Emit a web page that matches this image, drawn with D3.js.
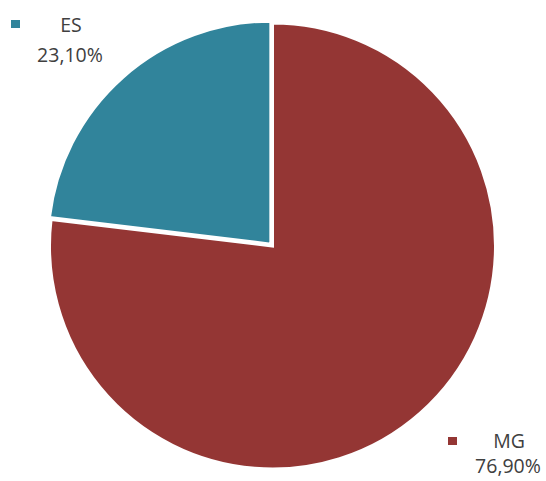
<!DOCTYPE html>
<html><head><meta charset="utf-8">
<script src="https://cdn.jsdelivr.net/npm/d3@7"></script>
<style>body{margin:0;background:#fff}svg{display:block}</style>
</head><body>
<svg id="c" width="546" height="481"></svg>
<script>
const categories = ["ES", "MG"];
const values = [23.1, 76.9];
const labels = ["23,10%", "76,90%"];
const colors = ["#31849B", "#943634"];

const svg = d3.select("#c");
const cx = 272.5, cy = 246, r = 223;
const g = svg.append("g").attr("transform", `translate(${cx},${cy})`);
const data = categories.map((c, i) => ({cat: c, v: values[i], lab: labels[i], col: colors[i]}));
const pie = d3.pie().value(d => d.v).sort(null).startAngle(-2 * Math.PI * values[0] / 100).endAngle(2 * Math.PI - 2 * Math.PI * values[0] / 100);
const arc = d3.arc().innerRadius(0).outerRadius(r);
const arcs = pie(data);
g.selectAll("path").data(arcs).enter().append("path")
  .attr("d", arc)
  .attr("fill", d => d.data.col)
  .attr("stroke", "#fff").attr("stroke-width", 3).attr("stroke-linejoin", "miter")
  .attr("transform", (d, i) => {
    if (i !== 0) return null;
    const a = (d.startAngle + d.endAngle) / 2;
    const off = 2.5;
    return `translate(${off * Math.sin(a)},${-off * Math.cos(a)})`;
  });

const font = "'Open Sans', 'Liberation Sans', sans-serif";
const legendPos = [
  {mx: 11, my: 20, tx: 71, ty: 32, vx: 70, vy: 62},
  {mx: 448, my: 437, tx: 509, ty: 448, vx: 508, vy: 473}
];
data.forEach((d, i) => {
  const p = legendPos[i];
  svg.append("rect").attr("x", p.mx).attr("y", p.my).attr("width", 9).attr("height", 8).attr("fill", d.col);
  svg.append("text").attr("x", p.tx).attr("y", p.ty).attr("text-anchor", "middle")
    .attr("font-family", font).attr("font-size", 19.5).attr("fill", "#404040").text(d.cat);
  svg.append("text").attr("x", p.vx).attr("y", p.vy).attr("text-anchor", "middle")
    .attr("font-family", font).attr("font-size", 19.5).attr("fill", "#404040").text(d.lab);
});
</script>
</body></html>
